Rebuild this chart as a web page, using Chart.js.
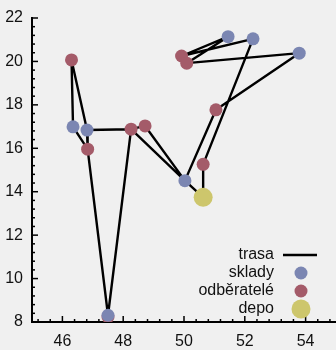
<!DOCTYPE html>
<html>
<head>
<meta charset="utf-8">
<script src="https://cdn.jsdelivr.net/npm/chart.js@4/dist/chart.umd.min.js"></script>
<style>
  html, body { margin: 0; padding: 0; background: #f0f0f0; }
  #wrap { width: 336px; height: 350px; }
</style>
</head>
<body>
<div id="wrap"><canvas id="c" width="336" height="350"></canvas></div>
<script>
// Sklady (warehouses)
const skladyX = [46.35, 46.81, 47.50, 50.03, 51.45, 52.27, 53.79];
const skladyY = [16.99, 16.84, 8.31, 14.51, 21.14, 21.04, 20.38];

// Odběratelé (customers)
const odberateleX = [46.30, 46.83, 47.50, 48.26, 48.72, 49.92, 50.09, 51.05, 50.63];
const odberateleY = [20.07, 15.96, 8.23, 16.88, 17.03, 20.25, 19.92, 17.77, 15.26];

// Depo
const depoX = [50.63];
const depoY = [13.74];

// Order of stops along the route (S = sklad, O = odběratel, D = depo; 1-based)
const trasa = ['S2', 'O4', 'O5', 'S4', 'O8', 'S7', 'O7', 'S5', 'O6', 'S6',
               'O9', 'D1', 'S4', 'O4', 'S3', 'O2', 'S1', 'O1', 'S2', 'O2'];

// Axis ranges and labelled ticks
const xRange = [45, 55];
const yRange = [8, 22];
const xTicks = [46, 48, 50, 52, 54];
const yTicks = [8, 10, 12, 14, 16, 18, 20, 22];
const minorStep = 0.4;

const seriesNames = ['trasa', 'sklady', 'odběratelé', 'depo'];

const COLORS = {
  line: '#000000',
  sklad: '#7b86b2',
  odberatel: '#a45b69',
  depo: '#cdc66c',
  text: '#111111'
};
const FONT = "'Liberation Sans', Arial, sans-serif";

const toPoints = (xs, ys) => xs.map((x, i) => ({ x: x, y: ys[i] }));
const sklady = toPoints(skladyX, skladyY);
const odberatele = toPoints(odberateleX, odberateleY);
const depo = toPoints(depoX, depoY);
const stops = { S: sklady, O: odberatele, D: depo };
const trasaPoints = trasa.map(k => stops[k[0]][parseInt(k.slice(1), 10) - 1]);

// Inward major/minor tick marks, drawn under the markers
const innerTicks = {
  id: 'innerTicks',
  beforeDatasetsDraw(chart) {
    const { ctx, chartArea: a, scales } = chart;
    const values = s => {
      const out = [];
      const k0 = Math.ceil(s.min / minorStep - 1e-9);
      const k1 = Math.floor(s.max / minorStep + 1e-9);
      for (let k = k0; k <= k1; k++) out.push(+(k * minorStep).toFixed(6));
      return out;
    };
    const isMajor = (list, v) => list.some(t => Math.abs(t - v) < 1e-6);
    ctx.save();
    ctx.strokeStyle = '#000';
    ctx.lineWidth = 1.5;
    values(scales.x).forEach(v => {
      if (Math.abs(v - scales.x.min) < 1e-6) return;
      const px = scales.x.getPixelForValue(v);
      const len = isMajor(xTicks, v) ? 6 : 3;
      ctx.beginPath();
      ctx.moveTo(px, a.bottom);
      ctx.lineTo(px, a.bottom - len);
      ctx.stroke();
    });
    values(scales.y).forEach(v => {
      if (Math.abs(v - scales.y.min) < 1e-6) return;
      const py = scales.y.getPixelForValue(v);
      const len = isMajor(yTicks, v) ? 6 : 3;
      ctx.beginPath();
      ctx.moveTo(a.left, py);
      ctx.lineTo(a.left + len, py);
      ctx.stroke();
    });
    ctx.restore();
  }
};

// Key in the lower right corner: label first, sample to its right
const keyBox = {
  id: 'keyBox',
  afterDraw(chart) {
    const { ctx, chartArea: a } = chart;
    const ds = chart.data.datasets;
    ctx.save();
    ctx.font = '16px ' + FONT;
    ctx.textAlign = 'right';
    ctx.textBaseline = 'middle';
    ds.forEach((d, i) => {
      const yy = a.bottom - 67 + i * 18;
      ctx.fillStyle = COLORS.text;
      ctx.fillText(d.label, a.right - 62, yy);
      if (d.type === 'line') {
        ctx.strokeStyle = d.borderColor;
        ctx.lineWidth = d.borderWidth;
        ctx.beginPath();
        ctx.moveTo(a.right - 53, yy);
        ctx.lineTo(a.right - 19, yy);
        ctx.stroke();
      } else {
        ctx.fillStyle = d.backgroundColor;
        ctx.beginPath();
        ctx.arc(a.right - 35, yy, d.pointRadius, 0, Math.PI * 2);
        ctx.fill();
      }
    });
    ctx.restore();
  }
};

Chart.defaults.font.family = FONT;

new Chart(document.getElementById('c'), {
  type: 'scatter',
  data: {
    datasets: [
      {
        label: seriesNames[0],
        type: 'line',
        data: trasaPoints,
        borderColor: COLORS.line,
        borderWidth: 2.4,
        borderJoinStyle: 'round',
        pointRadius: 0,
        fill: false,
        tension: 0,
        order: 4
      },
      {
        label: seriesNames[1],
        data: sklady,
        backgroundColor: COLORS.sklad,
        borderWidth: 0,
        pointRadius: 6.5,
        order: 2
      },
      {
        label: seriesNames[2],
        data: odberatele,
        backgroundColor: COLORS.odberatel,
        borderWidth: 0,
        pointRadius: 6.5,
        order: 3
      },
      {
        label: seriesNames[3],
        data: depo,
        backgroundColor: COLORS.depo,
        borderWidth: 0,
        pointRadius: 9.5,
        order: 1
      }
    ]
  },
  options: {
    responsive: false,
    animation: false,
    events: [],
    layout: { autoPadding: false, padding: { top: 18, right: 0, left: 0, bottom: 0 } },
    plugins: {
      legend: { display: false },
      tooltip: { enabled: false }
    },
    scales: {
      x: {
        type: 'linear',
        min: xRange[0],
        max: xRange[1],
        afterBuildTicks: s => { s.ticks = xTicks.map(v => ({ value: v })); },
        afterFit: s => { s.height = 28; s.paddingLeft = 0; s.paddingRight = 0; },
        grid: { drawOnChartArea: false, drawTicks: false },
        border: { color: '#000', width: 2 },
        ticks: { padding: 10, color: COLORS.text, font: { family: FONT, size: 16 } }
      },
      y: {
        type: 'linear',
        min: yRange[0],
        max: yRange[1],
        afterBuildTicks: s => { s.ticks = yTicks.map(v => ({ value: v })); },
        afterFit: s => { s.width = 32; s.paddingTop = 0; s.paddingBottom = 0; },
        grid: { drawOnChartArea: false, drawTicks: false },
        border: { color: '#000', width: 2 },
        ticks: { padding: 9, color: COLORS.text, font: { family: FONT, size: 16 } }
      }
    }
  },
  plugins: [innerTicks, keyBox]
});
</script>
</body>
</html>
